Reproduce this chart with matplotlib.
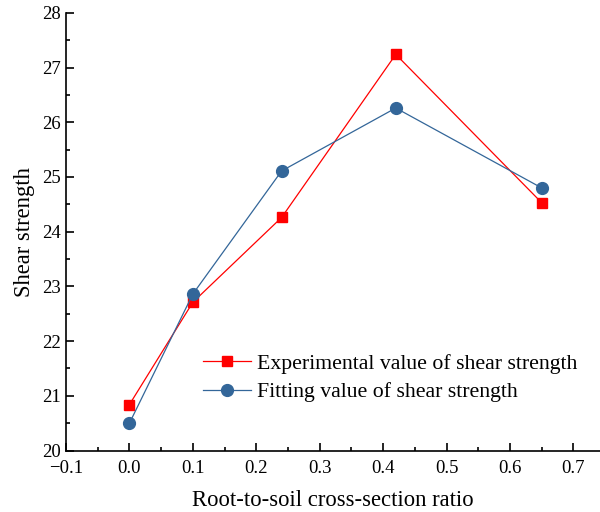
import matplotlib
matplotlib.use("Agg")
import matplotlib.pyplot as plt
from matplotlib.ticker import MultipleLocator, FuncFormatter

# 数据
ratio = [0.0, 0.1, 0.24, 0.42, 0.65]
exp_strength = [20.84, 22.71, 24.26, 27.24, 24.53]
fit_strength = [20.50, 22.86, 25.11, 26.26, 24.80]
exp_label = "Experimental value of shear strength"
fit_label = "Fitting value of shear strength"

RED = "#FF0000"
BLUE = "#336699"

plt.rcParams["font.family"] = ["Liberation Serif", "DejaVu Serif"]

fig = plt.figure(figsize=(6.0, 5.12), dpi=100)
ax = fig.add_axes([0.11, 0.12, 0.89, 0.855])

ax.plot(ratio, exp_strength, color=RED, linewidth=0.9, marker="s", markersize=7,
        markerfacecolor=RED, markeredgecolor=RED, label=exp_label, zorder=3)
ax.plot(ratio, fit_strength, color=BLUE, linewidth=0.9, marker="o", markersize=8.5,
        markerfacecolor=BLUE, markeredgecolor=BLUE, label=fit_label, zorder=3)

ax.set_xlim(-0.1, 0.742)
ax.set_ylim(20, 28)
ax.xaxis.set_major_locator(MultipleLocator(0.1))
ax.xaxis.set_minor_locator(MultipleLocator(0.05))
ax.yaxis.set_major_locator(MultipleLocator(1))
ax.yaxis.set_minor_locator(MultipleLocator(0.5))
ax.xaxis.set_major_formatter(FuncFormatter(lambda v, p: f"{v:.1f}".replace("-", "\u2212")))

ax.tick_params(which="both", direction="in", width=1.2, labelsize=13.5, colors="black")
ax.tick_params(which="major", length=6)
ax.tick_params(which="minor", length=3)
ax.tick_params(axis="x", pad=7)
for s in ["top", "right"]:
    ax.spines[s].set_visible(False)
for s in ["left", "bottom"]:
    ax.spines[s].set_linewidth(1.2)

ax.set_xlabel("Root-to-soil cross-section ratio", fontsize=16.3, labelpad=9)
ax.set_ylabel("Shear strength", fontsize=16.3, labelpad=5)

ax.legend(loc="lower right", bbox_to_anchor=(0.995, 0.065), frameon=False, fontsize=15.7,
          handlelength=2.2, handletextpad=0.3, labelspacing=0.38)

fig.savefig("out.png", dpi=100, facecolor="white")
